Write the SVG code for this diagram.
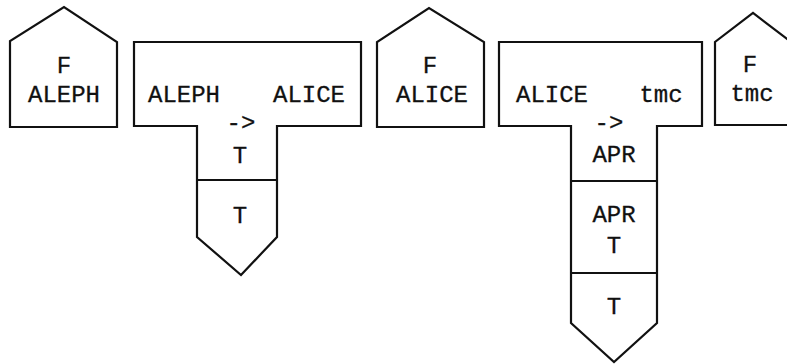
<svg xmlns="http://www.w3.org/2000/svg" width="787" height="364" viewBox="0 0 787 364">
<style>
.s{fill:#fff;stroke:#111;stroke-width:2.2;stroke-linejoin:miter}
.d{stroke:#111;stroke-width:2.2}
text{font-family:"Liberation Mono","DejaVu Sans Mono",monospace;font-size:24px;fill:#111;stroke:#111;stroke-width:0.3;text-anchor:middle}
</style>
<rect width="787" height="364" fill="#fff"/>
<g id="connectors"/>
<g id="n1">
<path class="s" d="M10,127 V41 L64,7 L117,42 V127 Z"/>
<text x="64" y="73">F</text>
<text x="64" y="102">ALEPH</text>
</g>
<g id="n2">
<path class="s" d="M134,42 H361 V126 H277 V237 L241,275 L197,237 V126 H134 Z"/>
<line class="d" x1="197" y1="180" x2="277" y2="180"/>
<text x="184" y="102">ALEPH</text>
<text x="309" y="102">ALICE</text>
<text x="241" y="130">-&gt;</text>
<text x="240" y="163">T</text>
<text x="240" y="223">T</text>
</g>
<g id="n3">
<path class="s" d="M377,127 V42 L429,8 L484,42 V127 Z"/>
<text x="430" y="73">F</text>
<text x="432" y="102">ALICE</text>
</g>
<g id="n4">
<path class="s" d="M499,42 H702 V126 H657 V323 L614,362 L571,323 V126 H499 Z"/>
<line class="d" x1="571" y1="181" x2="657" y2="181"/>
<line class="d" x1="571" y1="273" x2="657" y2="273"/>
<text x="552" y="102">ALICE</text>
<text x="661" y="102">tmc</text>
<text x="609" y="130">-&gt;</text>
<text x="614" y="162">APR</text>
<text x="614" y="222">APR</text>
<text x="614" y="253">T</text>
<text x="614" y="314">T</text>
</g>
<g id="n5">
<path class="s" d="M715,125 V42 L753,13 L791,42 V125 Z"/>
<text x="750" y="72">F</text>
<text x="752" y="101">tmc</text>
</g>
</svg>
